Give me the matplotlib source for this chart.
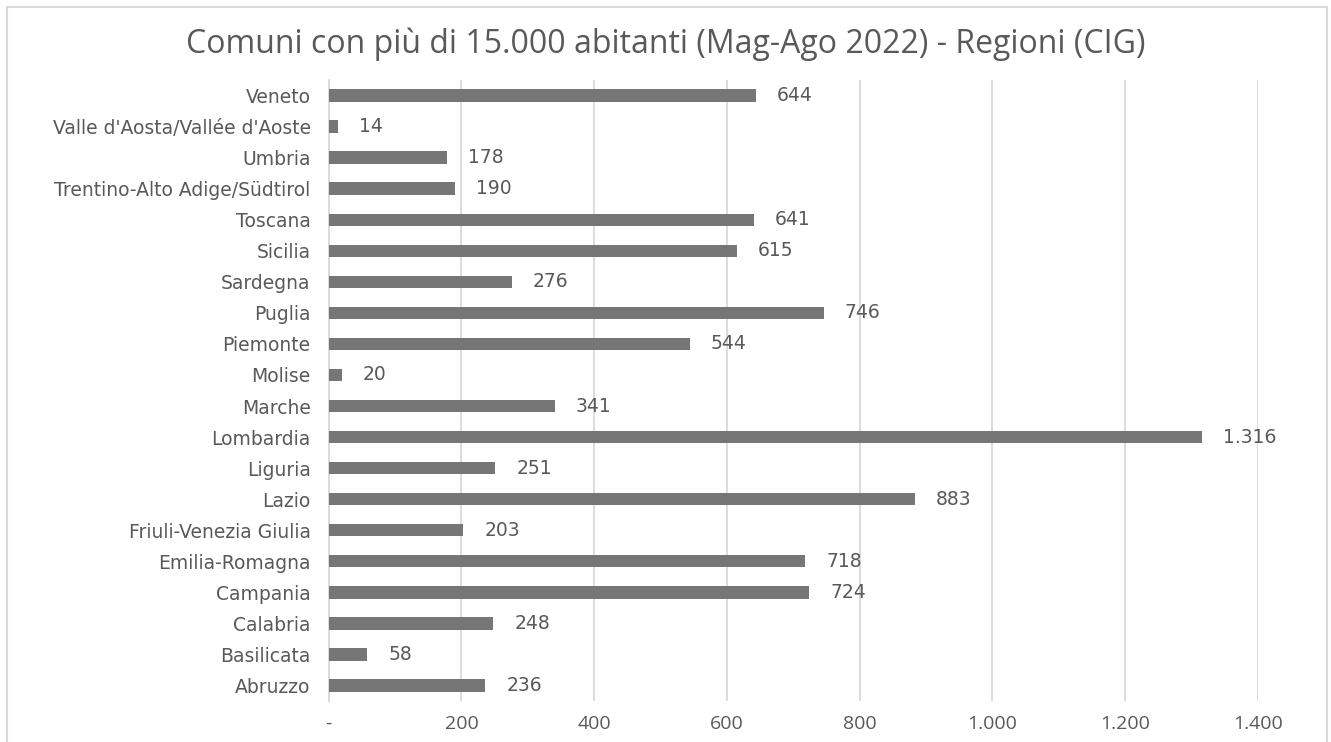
import matplotlib
matplotlib.use("Agg")
import matplotlib.pyplot as plt
from matplotlib.patches import Rectangle

regions = ["Abruzzo", "Basilicata", "Calabria", "Campania", "Emilia-Romagna",
           "Friuli-Venezia Giulia", "Lazio", "Liguria", "Lombardia", "Marche",
           "Molise", "Piemonte", "Puglia", "Sardegna", "Sicilia", "Toscana",
           "Trentino-Alto Adige/Südtirol", "Umbria", "Valle d'Aosta/Vallée d'Aoste", "Veneto"]
values = [236, 58, 248, 724, 718, 203, 883, 251, 1316, 341,
          20, 544, 746, 276, 615, 641, 190, 178, 14, 644]
xticks = [0, 200, 400, 600, 800, 1000, 1200, 1400]
title = "Comuni con più di 15.000 abitanti (Mag-Ago 2022) - Regioni (CIG)"

def fmt(v):
    if v == 0:
        return "-"
    return f"{v:,}".replace(",", ".")

plt.rcParams['font.family'] = ['DejaVu Sans']
text_color = "#595959"
bar_color = "#767676"

fig = plt.figure(figsize=(13.31, 7.42), dpi=100)
fig.patches.append(Rectangle((7 / 1331, -0.02), 1320 / 1331, 1 - 7 / 742 + 0.02,
                             transform=fig.transFigure,
                             fill=False, edgecolor="#d9d9d9", linewidth=1.5))
ax = fig.add_axes([0.247, 1 - 701 / 742, 0.698, (701 - 80) / 742])
y = range(len(regions))
ax.barh(y, values, height=0.4, color=bar_color, zorder=3)
for yi, v in zip(y, values):
    ax.annotate(fmt(v), (v, yi), xytext=(15, 0), textcoords="offset points",
                va="center", ha="left", fontsize=13.5, color=text_color)
ax.set_xlim(0, 1400)
ax.set_ylim(-0.5, len(regions) - 0.5)
ax.set_xticks(xticks)
ax.set_xticklabels([fmt(t) for t in xticks], fontsize=14, color=text_color, family="Open Sans")
ax.set_yticks(list(y))
ax.set_yticklabels(regions, fontsize=13.5, color=text_color)
ax.tick_params(axis="both", length=0)
ax.tick_params(axis="x", pad=10)
ax.tick_params(axis="y", pad=13)
ax.grid(axis="x", color="#d9d9d9", linewidth=1.3, zorder=0)
for s in ["top", "right", "bottom"]:
    ax.spines[s].set_visible(False)
ax.spines["left"].set_color("#d9d9d9")
ax.spines["left"].set_linewidth(1.3)
fig.text(0.5, 1 - 44 / 742, title, ha="center", va="center", fontsize=23, color=text_color,
         family="Open Sans")
fig.savefig("out.png", dpi=100)
